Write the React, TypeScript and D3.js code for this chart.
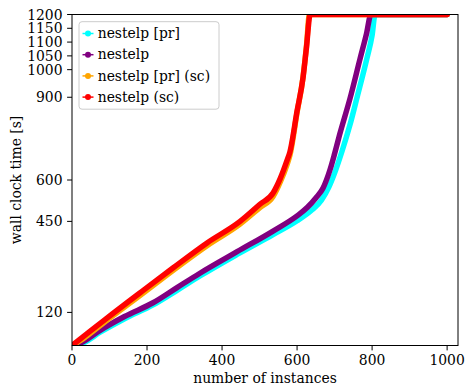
import React from "react";
import * as d3 from "d3";

// ---- data (instance index, wall clock seconds) ----
const seriesNames = ["nestelp [pr]", "nestelp", "nestelp [pr] (sc)", "nestelp (sc)"];
const seriesColors = ["#00ffff", "#800080", "#ffa500", "#ff0000"];

const cyanPts: [number, number][] = [
  [0, 0], [30, 10], [75, 48], [140, 97], [216, 147], [280, 200], [341, 252], [440, 330],
  [536, 402], [600, 452], [640, 492], [665, 527], [685, 575], [700, 625], [720, 705],
  [741, 800], [760, 900], [786, 1040], [800, 1125], [808, 1200], [1000, 1200],
];
const purplePts: [number, number][] = [
  [0, 0], [27, 12], [75, 55], [140, 105], [216, 155], [280, 210], [341, 262], [440, 340],
  [536, 415], [600, 470], [627, 500], [650, 535], [669, 570], [688, 638], [700, 695],
  [715, 772], [741, 895], [768, 1040], [785, 1130], [797, 1200], [1000, 1200],
];
const orangePts: [number, number][] = [
  [0, 0], [30, 25], [88, 86], [190, 190], [269, 272], [360, 362], [448, 440], [501, 500],
  [536, 540], [555, 592], [573, 655], [581, 690], [600, 845], [616, 975], [625, 1085],
  [633, 1200], [1000, 1200],
];
const redPts: [number, number][] = [
  [0, 0], [30, 32], [88, 94], [190, 200], [269, 281], [360, 372], [448, 450], [501, 512],
  [536, 553], [555, 605], [573, 670], [581, 702], [600, 850], [616, 972], [625, 1080],
  [635, 1200], [1000, 1200],
];
const allSeries = [cyanPts, purplePts, orangePts, redPts];

const xTicks = [0, 200, 400, 600, 800, 1000];
const yTicks = [120, 450, 600, 900, 1000, 1050, 1100, 1150, 1200];

const W = 465;
const H = 389;
const L = 72;
const R = 458;
const T = 14.5;
const B = 345.5;
const FONT = "DejaVu Serif, serif";
const FS = 13.9;

export default function App() {
  const x = d3.scaleLinear().domain([0, 1029]).range([L, R]);
  const y = d3.scaleLinear().domain([0, 1200]).range([B, T]);
  const line = d3
    .line<[number, number]>()
    .x((d) => x(d[0]))
    .y((d) => y(d[1]))
    .curve(d3.curveMonotoneX);

  const legendRowY = (i: number) => 33.5 + i * 21.2;

  return (
    <svg
      width={W}
      height={H}
      style={{ position: "absolute", left: 0, top: 0, background: "#fff" }}
      fontFamily={FONT}
    >
      <defs>
        <clipPath id="plotclip">
          <rect x={L} y={T} width={R - L} height={B - T} />
        </clipPath>
      </defs>
      <rect x={0} y={0} width={W} height={H} fill="#fff" />
      <g clipPath="url(#plotclip)">
        {allSeries.map((pts, i) => (
          <path
            key={i}
            d={line(pts) ?? ""}
            fill="none"
            stroke={seriesColors[i]}
            strokeWidth={5.5}
            strokeLinejoin="round"
            strokeLinecap="round"
          />
        ))}
      </g>
      {/* spines */}
      <rect x={L} y={T} width={R - L} height={B - T} fill="none" stroke="#000" strokeWidth={1} />
      {/* x ticks */}
      {xTicks.map((t) => (
        <g key={"x" + t}>
          <line x1={x(t)} x2={x(t)} y1={B} y2={B + 4.9} stroke="#000" strokeWidth={1} />
          <text x={x(t)} y={364.5} fontSize={FS} textAnchor="middle" fill="#000">
            {t}
          </text>
        </g>
      ))}
      {/* y ticks */}
      {yTicks.map((t) => (
        <g key={"y" + t}>
          <line x1={L - 4.9} x2={L} y1={y(t)} y2={y(t)} stroke="#000" strokeWidth={1} />
          <text x={L - 9.5} y={y(t)} dy="0.36em" fontSize={FS} textAnchor="end" fill="#000">
            {t}
          </text>
        </g>
      ))}
      <text x={(L + R) / 2} y={383} fontSize={FS} textAnchor="middle" fill="#000">
        number of instances
      </text>
      <text
        transform={`translate(20.5, ${(T + B) / 2}) rotate(-90)`}
        fontSize={FS}
        textAnchor="middle"
        fill="#000"
      >
        wall clock time [s]
      </text>
      {/* legend */}
      <rect
        x={79}
        y={21.7}
        width={140}
        height={87.5}
        rx={3}
        fill="#fff"
        fillOpacity={0.8}
        stroke="#cccccc"
        strokeWidth={1}
      />
      {seriesNames.map((name, i) => (
        <g key={name}>
          <line
            x1={82.5}
            x2={93.5}
            y1={legendRowY(i)}
            y2={legendRowY(i)}
            stroke={seriesColors[i]}
            strokeWidth={1.5}
          />
          <circle cx={88} cy={legendRowY(i)} r={3} fill={seriesColors[i]} />
          <text x={97.7} y={legendRowY(i)} dy="0.34em" fontSize={FS} fill="#000">
            {name}
          </text>
        </g>
      ))}
    </svg>
  );
}
